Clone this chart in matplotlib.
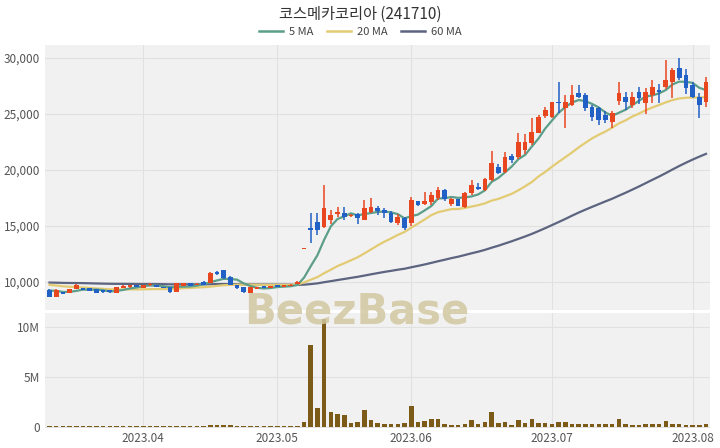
import matplotlib
matplotlib.use("Agg")
import matplotlib.pyplot as plt
import numpy as np
import pandas as pd

plt.rcParams['font.family'] = ['Noto Sans CJK KR', 'DejaVu Sans']

title = "코스메카코리아 (241710)"

# estimated closes before the visible window (used only for the moving averages)
history_close = [
    9950, 10000, 9900, 9850, 9900, 10050, 10100, 9950, 9900, 9850, 9800, 9900,
    10000, 9950, 9850, 9800, 9900, 9950, 9900, 9850, 9800, 9850, 9900, 10000,
    10050, 9950, 9900, 9850, 9800, 9850, 9900, 9950, 9900, 9850, 9900, 9950,
    11000, 12000, 11500, 10800,
    10450, 10350, 10250, 10150, 10100, 10050, 9950, 9850, 9800, 9750, 9700,
    9650, 9600, 9550, 9500, 9450, 9400, 9350, 9300,
]

open_ = [
    9290, 8700, 9100, 9020, 9370, 9460, 9460, 9370, 9290, 9290,
    9020, 9460, 9550, 9730, 9460, 9700, 9730, 9550, 9550, 9110,
    9640, 9910, 9730, 10000, 9910, 10890, 11070, 10450, 9730, 9550,
    9020, 9370, 9640, 9460, 9730, 9550, 9640, 9820, 12950, 14850,
    15350, 14900, 15500, 16050, 16150, 15900, 16050, 15550, 16250, 16600,
    16400, 16150, 15250, 15700, 15250, 17200, 16950, 17150, 17500, 18200,
    17000, 17400, 16700, 17950, 18500, 18200, 19100, 20300, 19800, 21250,
    21150, 21800, 22400, 23300, 24800, 24700, 26050, 25500, 25800, 26900,
    26700, 25600, 25500, 24900, 24300, 26150, 26500, 25800, 26950, 25950,
    26700, 27150, 27400, 27850, 29100, 28500, 27600, 26500, 26050,
]
high = [
    9350, 9350, 9150, 9400, 9820, 9500, 9480, 9400, 9300, 9300,
    9580, 9700, 9750, 9750, 9750, 9900, 9750, 9580, 9580, 9950,
    9950, 9950, 9900, 10050, 10850, 10950, 11100, 10500, 9750, 9560,
    9580, 9580, 9660, 9660, 9750, 9750, 9800, 10050, 12950, 16150,
    16150, 18660, 16400, 16700, 16700, 16100, 16200, 17300, 17500, 16800,
    16600, 16300, 16100, 15800, 17600, 17250, 18050, 18050, 18500, 18300,
    17500, 17450, 18000, 19100, 18800, 19300, 21700, 20500, 21650, 21400,
    23300, 23200, 24650, 24900, 25600, 26100, 27850, 26700, 27600, 27600,
    26900, 25800, 25600, 25300, 25300, 27850, 26950, 26950, 27400, 27300,
    28000, 27700, 29800, 29100, 30000, 29000, 27900, 26900, 28300,
]
low = [
    8650, 8650, 8900, 9000, 9350, 9250, 9180, 9000, 9020, 9050,
    9000, 9420, 9500, 9520, 9440, 9680, 9530, 9440, 9050, 9080,
    9600, 9620, 9700, 9700, 9880, 10650, 10300, 9700, 9400, 9050,
    9000, 9350, 9440, 9440, 9530, 9530, 9620, 9800, 12950, 13480,
    14200, 14800, 15200, 15800, 15500, 15800, 15200, 15500, 16200, 16000,
    15700, 15300, 15100, 14650, 15000, 16800, 16900, 16900, 17300, 17200,
    16800, 16750, 16650, 17800, 18250, 18100, 19000, 19600, 19700, 20600,
    21000, 21400, 22200, 23300, 24600, 24600, 25100, 23750, 25700, 26400,
    25300, 24350, 24000, 24200, 23750, 25800, 25350, 25550, 25900, 25000,
    25950, 25950, 27200, 26400, 28000, 26800, 26400, 24650, 25600,
]
close = [
    8700, 9290, 8930, 9370, 9730, 9290, 9200, 9050, 9110, 9110,
    9550, 9640, 9700, 9550, 9730, 9820, 9550, 9460, 9100, 9900,
    9910, 9640, 9820, 9730, 10800, 10700, 10360, 9730, 9460, 9110,
    9550, 9550, 9460, 9640, 9550, 9730, 9730, 10000, 12950, 14650,
    14650, 16600, 16000, 16250, 15800, 16000, 15700, 16600, 16700, 16300,
    16150, 15350, 15800, 14800, 17300, 16850, 17200, 17750, 18200, 17400,
    17400, 16800, 17950, 18650, 18300, 19200, 20600, 19700, 21150, 20900,
    22500, 22500, 23400, 24750, 25350, 26050, 25950, 26050, 26700, 26500,
    25550, 24700, 24450, 24450, 25050, 26900, 26050, 26500, 26400, 26950,
    27400, 26950, 28000, 28900, 28200, 27300, 26500, 25800, 27850,
]
volume_m = [
    0.05, 0.06, 0.04, 0.05, 0.07, 0.04, 0.04, 0.05, 0.04, 0.04,
    0.06, 0.05, 0.05, 0.04, 0.05, 0.05, 0.04, 0.04, 0.06, 0.07,
    0.05, 0.04, 0.04, 0.05, 0.14, 0.12, 0.13, 0.12, 0.08, 0.06,
    0.05, 0.04, 0.04, 0.04, 0.04, 0.04, 0.04, 0.06, 0.45, 8.2,
    1.9, 10.8, 1.5, 1.25, 1.15, 0.35, 0.45, 1.7, 0.7, 0.35,
    0.3, 0.3, 0.3, 0.35, 2.1, 0.5, 0.6, 0.8, 0.8, 0.3,
    0.15, 0.15, 0.25, 0.7, 0.25, 0.45, 1.45, 0.4, 0.45, 0.2,
    0.7, 0.35, 0.75, 0.38, 0.38, 0.25, 0.45, 0.45, 0.3, 0.3,
    0.3, 0.3, 0.25, 0.3, 0.25, 0.75, 0.25, 0.2, 0.2, 0.25,
    0.3, 0.3, 0.55, 0.3, 0.25, 0.2, 0.2, 0.2, 0.3,
]

holidays = ['2023-05-01', '2023-05-05', '2023-05-29', '2023-06-06']
dates = pd.bdate_range('2023-03-14', '2023-08-03')
dates = dates[~dates.isin(pd.to_datetime(holidays))]

o = np.array(open_, float)
h = np.array(high, float)
l = np.array(low, float)
c = np.array(close, float)
v = np.array(volume_m) * 1e6
n = len(c)
x = np.arange(n)

full = pd.Series(history_close + close, dtype=float)
k = len(history_close)
ma5 = full.rolling(5).mean().values[k:]
ma20 = full.rolling(20).mean().values[k:]
ma60 = full.rolling(60).mean().values[k:]

RED = '#e8461e'
BLUE = '#2160c4'
BG = '#f1f1f1'
GRID = '#e1e1e1'
TXT = '#555555'

W, H = 720, 448
fig = plt.figure(figsize=(7.2, 4.48), dpi=100)
fig.patch.set_facecolor('white')

def fr(x0, y0, x1, y1):
    return [x0 / W, 1 - y1 / H, (x1 - x0) / W, (y1 - y0) / H]

ax = fig.add_axes(fr(45, 45, 710, 310))
axv = fig.add_axes(fr(45, 313, 710, 428))

month_idx = [i for i in range(1, n) if dates[i].month != dates[i - 1].month]
month_lbl = [dates[i].strftime('%Y.%m') for i in month_idx]

for a in (ax, axv):
    a.set_facecolor(BG)
    for s in a.spines.values():
        s.set_visible(False)
    a.set_xlim(-0.67, n - 1 + 0.6)
    a.set_xticks(month_idx)
    a.grid(True, color=GRID, lw=0.8)
    a.set_axisbelow(True)
    a.tick_params(length=0, colors=TXT, labelsize=8.5)

ax.set_xticklabels([])
axv.set_xticklabels(month_lbl)
axv.tick_params(axis='x', pad=3)

# moving averages
ax.plot(x, ma60, color='#5c6480', lw=1.6, zorder=2)
ax.plot(x, ma20, color='#e3cb73', lw=1.6, zorder=2)
ax.plot(x, ma5, color='#5c9e89', lw=1.6, zorder=3)

up = c >= o
cols = np.where(up, RED, BLUE)
ax.vlines(x, l, h, colors=cols, lw=1.1, zorder=4)
body_b = np.minimum(o, c)
body_h = np.maximum(np.abs(c - o), 60)
ax.bar(x, body_h, bottom=body_b, width=0.7, color=cols, zorder=5, linewidth=0)

ax.set_ylim(7500, 31160)
ax.set_yticks([10000, 15000, 20000, 25000, 30000])
ax.set_yticklabels([f"{t:,}" for t in [10000, 15000, 20000, 25000, 30000]])

axv.bar(x, v, width=0.68, color='#7b5b17', zorder=3, linewidth=0)
axv.set_ylim(-0.15e6, 11.45e6)
axv.set_yticks([0, 5e6, 10e6])
axv.set_yticklabels(['0', '5M', '10M'])

fig.text(0.5, 1 - 14 / H, title, ha='center', va='center', fontsize=11, color='#333333')

from matplotlib.lines import Line2D
handles = [Line2D([], [], color='#5c9e89', lw=1.8),
           Line2D([], [], color='#e3cb73', lw=1.8),
           Line2D([], [], color='#5c6480', lw=1.8)]
fig.legend(handles, ['5 MA', '20 MA', '60 MA'], loc='center', ncol=3,
           bbox_to_anchor=(0.5, 1 - 32 / H), frameon=False, fontsize=8,
           handlelength=2.2, columnspacing=1.2, handletextpad=0.5,
           labelcolor='#444444')

fig.text(357 / W, 1 - 311 / H, 'BeezBase', ha='center', va='center',
         fontsize=30, fontweight='bold', color='#d2c7a0', alpha=0.85,
         family='DejaVu Sans', zorder=10)

fig.savefig('out.png', dpi=100, facecolor='white')
